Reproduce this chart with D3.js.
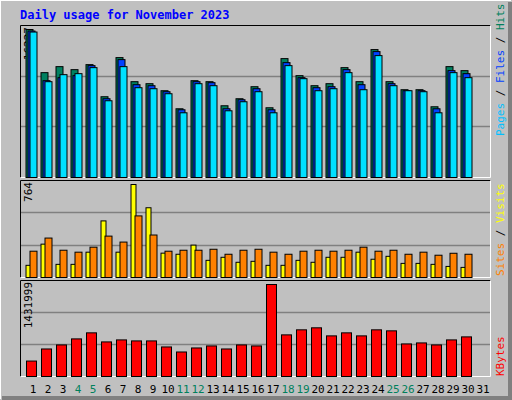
<!DOCTYPE html>
<html>
<head>
<meta charset="utf-8">
<script src="https://cdn.jsdelivr.net/npm/d3@7"></script>
<style>
  body { margin: 0; background: #fff; }
  text { font-family: "DejaVu Sans Mono", monospace; }
</style>
</head>
<body>
<div id="chart"></div>
<script>
const days = d3.range(1, 32);
const weekends = [4, 5, 11, 12, 18, 19, 25, 26];

const hits = [16227, 11495, 12155, 11825, 12375, 8855, 13145, 10505, 10285, 9515, 7535, 10615, 10505, 7865, 8635,
  9955, 7645, 13035, 11165, 10065, 10285, 12045, 10505, 14025, 10505, 9625, 9625, 7755, 12155, 11715];
const files = [16060, 10615, 10945, 11165, 12265, 8635, 12925, 10175, 10065, 9405, 7425, 10505, 10395, 7535, 8525,
  9735, 7425, 12595, 10945, 9845, 9955, 11825, 10175, 13805, 10285, 9515, 9515, 7535, 11715, 11385];
const pages = [15950, 10505, 11275, 11385, 12045, 8415, 12155, 9845, 9735, 9185, 7095, 10285, 10065, 7315, 8305,
  9405, 7095, 12265, 10835, 9515, 9735, 11495, 9625, 13365, 10065, 9515, 9405, 7095, 11495, 10945];
const visits = [100, 274, 108, 108, 208, 465, 208, 764, 573, 200, 191, 266, 141, 166, 125,
  133, 100, 100, 141, 125, 166, 166, 208, 150, 174, 116, 116, 108, 91, 83];
const sites = [216, 324, 224, 208, 249, 340, 291, 506, 349, 216, 224, 224, 232, 191, 224,
  232, 208, 191, 216, 224, 216, 224, 249, 216, 224, 191, 208, 183, 199, 191];
const kbytes = [240400, 428500, 491200, 585300, 679400, 538300, 569600, 553900, 553900, 459900, 381500, 444200, 475600, 428500, 491200,
  475600, 1431999, 648000, 726400, 757800, 632300, 679400, 632300, 726400, 710700, 506900, 522600, 491200, 569600, 616600];

const W = 512, H = 400;
const svg = d3.select('#chart').append('svg').attr('width', W).attr('height', H);

// outer 3d frame
svg.append('rect').attr('width', W).attr('height', H).attr('fill', '#c0c0c0');
svg.append('path').attr('d', `M0,${H - 1}V0H${W - 1}`).attr('stroke', '#fff').attr('stroke-width', 2).attr('fill', 'none');
svg.append('path').attr('d', `M2,${H - 2}H${W - 2}V2`).attr('stroke', '#808080').attr('stroke-width', 4).attr('fill', 'none');

svg.append('text').attr('x', 20).attr('y', 19).attr('fill', '#0000ff')
  .attr('font-size', 12).attr('font-weight', 'bold').text('Daily usage for November 2023');

const x = d3.scaleBand().domain(days).range([25, 490]);

const panels = [
  { top: 25, bottom: 177, max: 16227 },
  { top: 180, bottom: 277, max: 764 },
  { top: 280, bottom: 376, max: 1431999 }
];

panels.forEach((p) => {
  svg.append('rect').attr('x', 20.5).attr('y', p.top + 0.5).attr('width', 470).attr('height', p.bottom - p.top)
    .attr('fill', '#c0c0c0').attr('stroke', 'none');
  const h = p.bottom - p.top;
  [1, 2].forEach((k) => {
    const gy = Math.round(p.bottom - h * k / 3) + 0.5;
    svg.append('line').attr('x1', 21).attr('x2', 490).attr('y1', gy).attr('y2', gy)
      .attr('stroke', '#808080').attr('stroke-width', 1.5);
  });
  svg.append('path').attr('d', `M20.5,${p.bottom + 0.5}V${p.top + 0.5}H490.5`).attr('stroke', '#000').attr('fill', 'none');
  svg.append('path').attr('d', `M20.5,${p.bottom + 0.5}H490.5V${p.top + 0.5}`).attr('stroke', '#fff').attr('fill', 'none');
  p.y = d3.scaleLinear().domain([0, p.max]).range([p.bottom, p.top + 4]);
  svg.append('text').attr('transform', `translate(32,${p.top + 2}) rotate(-90)`)
    .attr('text-anchor', 'end').attr('font-size', 11).attr('fill', '#000').text(p.max);
});

function bars(vals, panel, dx, w, color) {
  svg.append('g').selectAll('rect').data(vals).enter().append('rect')
    .attr('x', (d, i) => x(i + 1) + dx + 0.5)
    .attr('y', (d) => panel.y(d) + 0.5)
    .attr('width', w)
    .attr('height', (d) => panel.bottom - panel.y(d))
    .attr('fill', color).attr('stroke', '#000').attr('stroke-width', 1);
}

bars(hits, panels[0], 0.5, 7, '#008060');
bars(files, panels[0], 2.5, 7, '#0040ff');
bars(pages, panels[0], 4.5, 7, '#00e0ff');
bars(visits, panels[1], 0.5, 5, '#ffff00');
bars(sites, panels[1], 4.5, 7, '#ff8000');
bars(kbytes, panels[2], 1, 10, '#ff0000');

// day labels
svg.append('g').selectAll('text').data(days).enter().append('text')
  .attr('x', (d) => x(d) + 8).attr('y', 393).attr('text-anchor', 'middle')
  .attr('font-size', 11).attr('font-family', 'DejaVu Sans')
  .attr('fill', (d) => weekends.includes(d) ? '#00805c' : '#000').text((d) => d);

// right legends
function legend(parts, yEnd) {
  const t = svg.append('text').attr('transform', `translate(504,${yEnd}) rotate(-90)`)
    .attr('font-size', 11);
  parts.forEach(([s, c], i) => {
    if (i > 0) t.append('tspan').attr('fill', '#000').text(' / ');
    t.append('tspan').attr('fill', c).text(s);
  });
}
legend([['Pages', '#00c0ff'], ['Files', '#0040ff'], ['Hits', '#00805c']], 136);
legend([['Sites', '#ff8000'], ['Visits', '#ffff00']], 276);
legend([['KBytes', '#ff0000']], 376);
</script>
</body>
</html>
